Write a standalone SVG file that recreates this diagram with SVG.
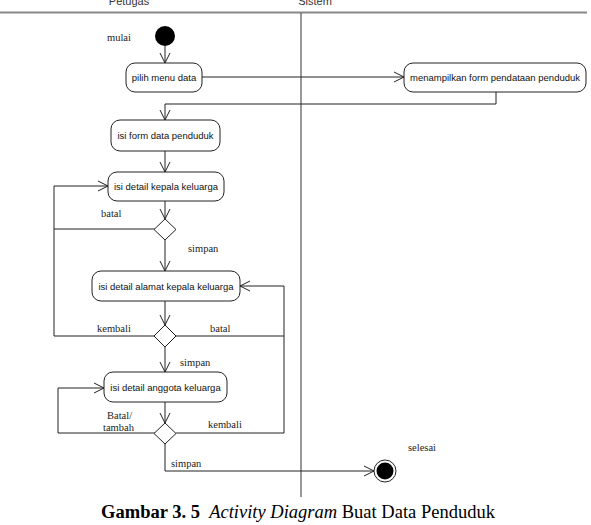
<svg xmlns="http://www.w3.org/2000/svg" width="591" height="525" viewBox="0 0 591 525">
<defs>
<marker id="arr" markerWidth="12" markerHeight="12" refX="10" refY="5" orient="auto" markerUnits="userSpaceOnUse" viewBox="0 0 12 10">
<path d="M0,0 L10,5 L0,10" fill="none" stroke="#222" stroke-width="1"/>
</marker>
</defs>
<style>
.box{fill:#fff;stroke:#222;stroke-width:1}
.lbl{font-family:"Liberation Sans",Arial,sans-serif;font-size:9.5px;fill:#111;text-anchor:middle}
.grd{font-family:"Liberation Serif","Times New Roman",serif;font-size:10.5px;fill:#222}
.con{fill:none;stroke:#222;stroke-width:1}
.hdr{font-family:"Liberation Sans",Arial,sans-serif;font-size:11px;fill:#333;text-anchor:middle}
</style>
<rect width="591" height="525" fill="#fff"/>
<g id="lanes">
<text class="hdr" x="129" y="5">Petugas</text>
<text class="hdr" x="315" y="5">Sistem</text>
<line x1="0" y1="12.5" x2="587" y2="12.5" stroke="#888" stroke-width="2"/>
<line x1="301" y1="13" x2="301" y2="497" stroke="#333" stroke-width="1"/>
</g>
<g id="connectors">
<line class="con" x1="165" y1="46" x2="165" y2="63" marker-end="url(#arr)"/>
<line class="con" x1="202" y1="77" x2="404" y2="77" marker-end="url(#arr)"/>
<polyline class="con" points="496,92 496,104 165,104 165,120" marker-end="url(#arr)"/>
<line class="con" x1="165" y1="151" x2="165" y2="172" marker-end="url(#arr)"/>
<line class="con" x1="165" y1="201" x2="165" y2="219" marker-end="url(#arr)"/>
<polyline class="con" points="155,229 54,229"/>
<line class="con" x1="165" y1="240" x2="165" y2="271" marker-end="url(#arr)"/>
<line class="con" x1="165" y1="301" x2="165" y2="325" marker-end="url(#arr)"/>
<polyline class="con" points="155,336 54,336 54,186 108,186" marker-end="url(#arr)"/>
<polyline class="con" points="176,336 284,336"/>
<polyline class="con" points="176,433 284,433 284,286 240,286" marker-end="url(#arr)"/>
<line class="con" x1="165" y1="347" x2="165" y2="372" marker-end="url(#arr)"/>
<line class="con" x1="165" y1="402" x2="165" y2="423" marker-end="url(#arr)"/>
<polyline class="con" points="155,433 58,433 58,388 104,388" marker-end="url(#arr)"/>
<polyline class="con" points="165,444 165,471 374,471" marker-end="url(#arr)"/>
</g>
<g id="start">
<circle cx="165" cy="36" r="10" fill="#000"/>
<text class="grd" x="107" y="41">mulai</text>
</g>
<g id="pilih">
<rect class="box" x="126" y="63" width="76" height="29" rx="9"/>
<text class="lbl" x="164" y="81">pilih menu data</text>
</g>
<g id="menampilkan">
<rect class="box" x="404" y="63" width="182" height="29" rx="9"/>
<text class="lbl" x="495" y="81">menampilkan form pendataan penduduk</text>
</g>
<g id="isiform">
<rect class="box" x="111" y="120" width="109" height="31" rx="9"/>
<text class="lbl" x="165.5" y="139">isi form data penduduk</text>
</g>
<g id="kepala">
<rect class="box" x="108" y="172" width="116" height="29" rx="9"/>
<text class="lbl" x="166" y="190">isi detail kepala keluarga</text>
</g>
<g id="d1">
<polygon class="box" points="165,219 176,229.5 165,240 154,229.5"/>
<text class="grd" x="101" y="217">batal</text>
<text class="grd" x="188" y="252">simpan</text>
</g>
<g id="alamat">
<rect class="box" x="92" y="271" width="148" height="30" rx="9"/>
<text class="lbl" x="166" y="290">isi detail alamat kepala keluarga</text>
</g>
<g id="d2">
<polygon class="box" points="165,325 176,336 165,347 154,336"/>
<text class="grd" x="97" y="332">kembali</text>
<text class="grd" x="210" y="332">batal</text>
<text class="grd" x="180" y="366">simpan</text>
</g>
<g id="anggota">
<rect class="box" x="104" y="372" width="123" height="30" rx="9"/>
<text class="lbl" x="165.5" y="391">isi detail anggota keluarga</text>
</g>
<g id="d3">
<polygon class="box" points="165,423 176,433.5 165,444 154,433.5"/>
<text class="grd" x="107" y="419">Batal/</text>
<text class="grd" x="103" y="431">tambah</text>
<text class="grd" x="208" y="428">kembali</text>
<text class="grd" x="171" y="467">simpan</text>
</g>
<g id="end">
<circle cx="385" cy="471" r="11" fill="#fff" stroke="#222" stroke-width="1"/>
<circle cx="385" cy="471" r="8.5" fill="#000"/>
<text class="grd" x="408" y="451">selesai</text>
</g>
<g id="caption">
<text x="298" y="518" text-anchor="middle" font-family="'Liberation Serif','Times New Roman',serif" font-size="18.5px" fill="#000"><tspan font-weight="bold">Gambar 3. 5</tspan><tspan xml:space="preserve">  </tspan><tspan font-style="italic">Activity Diagram</tspan> Buat Data Penduduk</text>
</g>
</svg>
